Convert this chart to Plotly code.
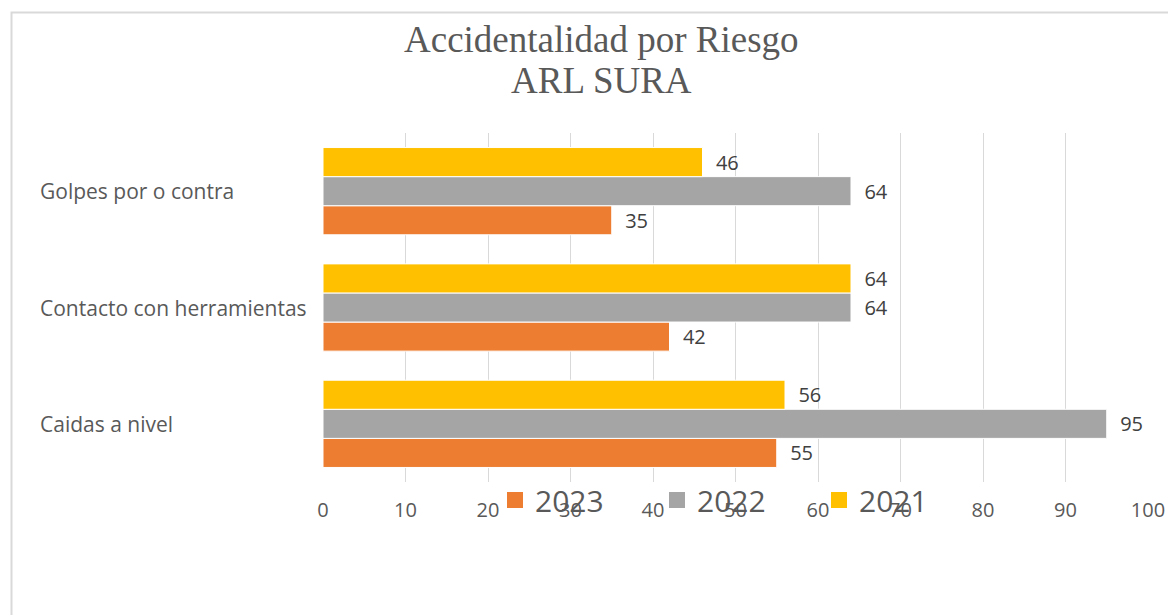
import plotly.graph_objects as go

# datos
categorias = ["Caidas a nivel", "Contacto con herramientas", "Golpes por o contra"]
anios = ["2023", "2022", "2021"]
valores_2023 = [55, 42, 35]
valores_2022 = [95, 64, 64]
valores_2021 = [56, 64, 46]
colores = ["#ED7D31", "#A5A5A5", "#FFC000"]
ticks_x = [0, 10, 20, 30, 40, 50, 60, 70, 80, 90, 100]

# the page body has an 8px margin, so the figure is a bit smaller
OFF = 8
W, H = 1176 - OFF, 615 - OFF
ml, mr, mt, mb = 323 - OFF, 28, 133 - OFF, 133
pw, ph = W - ml - mr, H - mt - mb
texto_gris = "#595959"
fuente = "Open Sans"

def fx(px):
    # page pixel -> paper x
    return (px - OFF - ml) / pw

def fy(py):
    # page pixel -> paper y
    return 1 - (py - OFF - mt) / ph

fig = go.Figure()

for anio, vals, col in zip(anios, [valores_2023, valores_2022, valores_2021], colores):
    fig.add_trace(go.Bar(
        y=categorias,
        x=vals,
        name=anio,
        orientation="h",
        marker_color=col,
        marker_line=dict(color="white", width=1),
        texttemplate="\u00a0\u00a0%{x}",
        textposition="outside",
        textfont=dict(size=20, color="#404040", family=fuente),
        cliponaxis=False,
        showlegend=False,
    ))

# legend entries with bigger squares
for anio, col in zip(anios, colores):
    fig.add_trace(go.Scatter(
        x=[None], y=[None], mode="markers", name=anio,
        marker=dict(symbol="square", size=16, color=col),
    ))

# etiquetas del eje y alineadas a la izquierda
for cat in categorias:
    fig.add_annotation(
        x=fx(38), xref="paper",
        y=cat, yref="y",
        text=cat, showarrow=False,
        xanchor="left", yanchor="middle",
        font=dict(size=21, color=texto_gris, family=fuente),
    )

# titulo en dos lineas
for linea, ypx in [("Accidentalidad por Riesgo", 40), ("ARL SURA", 80)]:
    fig.add_annotation(x=fx(601), xref="paper", y=fy(ypx), yref="paper",
                       text=linea, showarrow=False,
                       font=dict(size=37, color=texto_gris, family="Liberation Serif"),
                       xanchor="center", yanchor="middle")

fig.update_layout(
    width=W, height=H,
    margin=dict(l=ml, r=mr, t=mt, b=mb),
    paper_bgcolor="white", plot_bgcolor="white",
    barmode="group",
    bargap=0.25, bargroupgap=0,
    showlegend=True,
    legend=dict(
        orientation="h",
        x=fx(495), xanchor="left",
        y=fy(500), yanchor="middle",
        font=dict(size=30, color=texto_gris, family=fuente),
        entrywidth=117, entrywidthmode="pixels",
        itemwidth=30,
        bgcolor="rgba(0,0,0,0)",
    ),
    xaxis=dict(
        range=[0, 100], tickvals=ticks_x,
        showgrid=True, gridcolor="#D9D9D9", gridwidth=1,
        zeroline=False, showline=False,
        tickfont=dict(size=20, color=texto_gris, family=fuente),
        ticks="", ticklabelstandoff=14,
    ),
    yaxis=dict(
        categoryorder="array", categoryarray=categorias,
        showticklabels=False, showgrid=False, zeroline=False, showline=False,
    ),
    shapes=[dict(type="rect", xref="paper", yref="paper",
                 x0=fx(11.5), x1=fx(1200),
                 y0=fy(640), y1=fy(12.5),
                 line=dict(color="#D9D9D9", width=2), layer="below")],
)

fig.write_html("out.html")
